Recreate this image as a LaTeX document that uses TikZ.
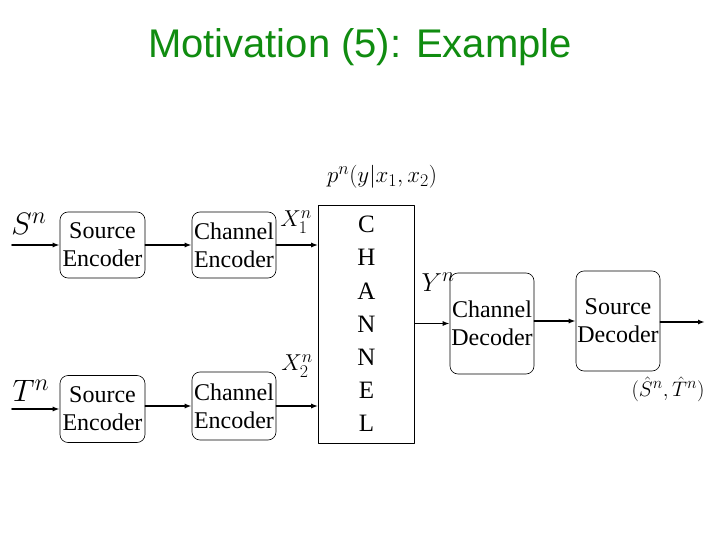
\RequirePackage{fix-cm}
\documentclass[tikz,border=0pt]{standalone}
\usepackage{fontspec}
\setmainfont{Liberation Serif}
\newfontfamily\titlefont{Liberation Sans}
\usepackage{amsmath}
\usepackage{amssymb}
\usetikzlibrary{arrows.meta,positioning}
\renewcommand\defaultscriptratio{.78}
\definecolor{titlegreen}{RGB}{16,140,16}
\tikzset{
  blocknode/.style={draw,rounded corners=8pt,line width=0.6pt,align=center,
    inner sep=0pt,font=\fontsize{24}{28}\selectfont},
  chanbox/.style={draw,line width=0.6pt,align=center,inner sep=0pt,
    minimum width=96pt,minimum height=238pt,font=\fontsize{25}{33.2}\selectfont},
  sigline/.style={line width=1.6pt,-{Latex[length=7pt,width=5pt]}},
  every picture/.style={line cap=round,line join=round}
}

\begin{document}
\begin{tikzpicture}[x=1pt,y=-1pt]
    \useasboundingbox (0,0) rectangle (720,540);
    \node[font=\titlefont\fontsize{40}{44}\selectfont,text=titlegreen] (title) at (360,47) {Motivation (5): Example};
    % encoders
    \node[blocknode,minimum width=85pt,minimum height=66pt] (srcA) at (102.5,245) {Source\\Encoder};
    \node[blocknode,minimum width=84pt,minimum height=66pt] (chA) at (234,245) {Channel\\Encoder};
    \node[blocknode,minimum width=85pt,minimum height=67pt] (srcB) at (102.5,409) {Source\\Encoder};
    \node[blocknode,minimum width=84pt,minimum height=68pt] (chB) at (234,406) {Channel\\Encoder};
    % channel and decoders
    \node[chanbox] (chan) at (366.5,324) {C\\H\\A\\N\\N\\E\\L};
    \node[blocknode,minimum width=84pt,minimum height=101pt] (chdec) at (492,323.5) {Channel\\Decoder};
    \node[blocknode,minimum width=84pt,minimum height=100pt] (srcdec) at (618,321) {Source\\Decoder};
    \coordinate (inS) at (12,245);
    \coordinate (inT) at (12,409);
    \coordinate (out) at (705,322);
    % signals
    \draw[sigline] (inS) -- (srcA);
    \draw[sigline] (srcA) -- (chA);
    \draw[sigline] (chA.east) -- (chA.east -| chan.west);
    \draw[sigline] (inT) -- (srcB);
    \draw[sigline] (srcB.east |- chB.west) -- (chB.west);
    \draw[sigline] (chB.east) -- (chB.east -| chan.west);
    \draw[sigline] (chan.east |- chdec.west) -- (chdec.west);
    \draw[sigline] (chdec.east |- srcdec.west) -- (srcdec.west);
    \draw[sigline] (srcdec.east |- out) -- (out);
    % labels
    \node[font=\fontsize{31}{36}\selectfont] (lS) at (29,224) {$S^n$};
    \node[font=\fontsize{31}{36}\selectfont] (lT) at (31,391) {$T^n$};
    \node[font=\fontsize{23}{26}\selectfont] (lX1) at (296,222) {$X_1^n$};
    \node[font=\fontsize{23}{26}\selectfont] (lX2) at (297,366) {$X_2^n$};
    \node[font=\fontsize{23}{26}\selectfont] (lp) at (382,177) {$p^n(y|x_1,x_2)$};
    \node[font=\fontsize{26}{30}\selectfont] (lY) at (438,282) {$Y^n$};
    \node[font=\fontsize{21}{24}\selectfont] (lout) at (668,389) {$(\hat{S}^n,\hat{T}^n)$};
\end{tikzpicture}
\end{document}
